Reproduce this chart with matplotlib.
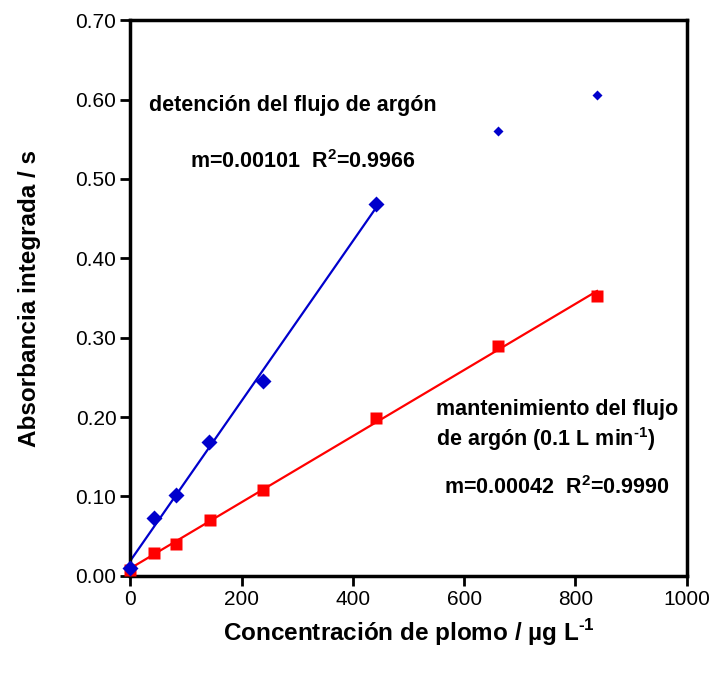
import numpy as np
import matplotlib
matplotlib.use("Agg")
import matplotlib.pyplot as plt
from matplotlib.ticker import FormatStrFormatter

plt.rcParams['font.family'] = ['Liberation Sans', 'DejaVu Sans']
plt.rcParams['mathtext.fontset'] = 'custom'
plt.rcParams['mathtext.rm'] = 'Liberation Sans:bold'

# Data: stopped argon flow (blue diamonds)
x_stop = [0, 42, 83, 141, 238, 442]
y_stop = [0.010, 0.073, 0.102, 0.168, 0.245, 0.468]
x_stop_extra = [661, 839]
y_stop_extra = [0.560, 0.606]

# Data: maintained argon flow 0.1 L/min (red squares)
x_flow = [0, 43, 83, 143, 238, 442, 661, 839]
y_flow = [0.007, 0.029, 0.040, 0.070, 0.108, 0.199, 0.290, 0.352]

xticks = [0, 200, 400, 600, 800, 1000]
yticks = [0.0, 0.1, 0.2, 0.3, 0.4, 0.5, 0.6, 0.7]

fig = plt.figure(figsize=(7.16, 6.75), dpi=100)
ax = fig.add_axes([0.182, 0.147, 0.777, 0.823])

# Fit lines
b1 = np.polyfit(x_stop, y_stop, 1)
xs1 = np.array([x_stop[0], x_stop[-1]])
ax.plot(xs1, np.polyval(b1, xs1), color='#0000cc', lw=1.6, zorder=2)
b2 = np.polyfit(x_flow, y_flow, 1)
xs2 = np.array([x_flow[0], x_flow[-1]])
ax.plot(xs2, np.polyval(b2, xs2), color='#ff0000', lw=1.6, zorder=2)

ax.plot(x_flow, y_flow, 's', color='#ff0000', ms=8.5, mec='none', zorder=3, clip_on=False)
ax.plot(x_stop, y_stop, 'D', color='#0000cc', ms=8, mec='none', zorder=4, clip_on=False)
ax.plot(x_stop_extra, y_stop_extra, 'D', color='#0000cc', ms=5.5, mec='none', zorder=4)

ax.set_xlim(0, 1000)
ax.set_ylim(0, 0.70)
ax.set_xticks(xticks)
ax.set_yticks(yticks)
ax.yaxis.set_major_formatter(FormatStrFormatter('%.2f'))
ax.tick_params(direction='out', length=7, width=2, labelsize=15, pad=3)
for s in ax.spines.values():
    s.set_linewidth(2.5)

sup = lambda t: '$^{\\text{' + t + '}}$'

ax.set_xlabel('Concentración de plomo / µg L' + sup('-1'), fontsize=17.5, fontweight='bold', labelpad=6)
ax.set_ylabel('Absorbancia integrada / s', fontsize=17.5, fontweight='bold', labelpad=25)

ax.text(0.033, 0.846, 'detención del flujo de argón', transform=ax.transAxes,
        fontsize=15.5, fontweight='bold', ha='left', va='center')
ax.text(0.107, 0.745, 'm=0.00101  R' + sup('2') + '=0.9966', transform=ax.transAxes,
        fontsize=15.5, fontweight='bold', ha='left', va='center')
ax.text(0.549, 0.270, 'mantenimiento del flujo\nde argón (0.1 L min' + sup('-1') + ')', transform=ax.transAxes,
        fontsize=15.5, fontweight='bold', ha='left', va='center', linespacing=1.25)
ax.text(0.563, 0.159, 'm=0.00042  R' + sup('2') + '=0.9990', transform=ax.transAxes,
        fontsize=15.5, fontweight='bold', ha='left', va='center')

fig.savefig('out.png', dpi=100)
